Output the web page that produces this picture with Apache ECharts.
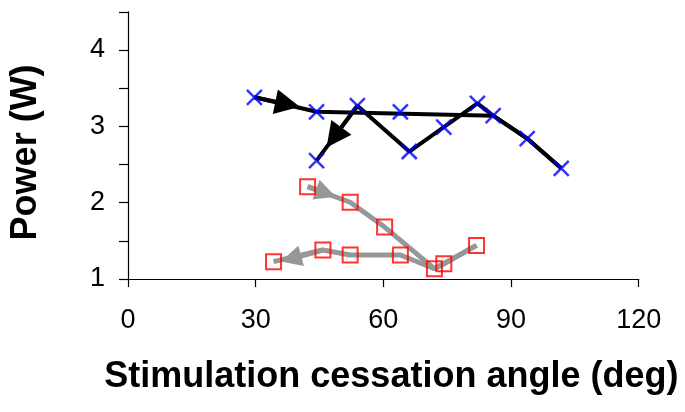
<!DOCTYPE html>
<html>
<head>
<meta charset="utf-8">
<script src="https://cdn.jsdelivr.net/npm/echarts@6/dist/echarts.min.js"></script>
<style>html,body{margin:0;padding:0;background:#fff;}#c{width:685px;height:412px;}</style>
</head>
<body>
<div id="c"></div>
<script>
// Blue crosses (black connecting lines)
const blueAngle = [29.7, 44.3, 53.9, 64.0, 66.1, 74.2, 82.1, 85.8, 93.8, 101.8, 44.3];
const bluePower = [3.38, 3.19, 3.27, 3.19, 2.67, 2.99, 3.30, 3.14, 2.84, 2.45, 2.55];
const blackRun1 = [0, 1, 7, 8, 9];
const blackRun2 = [9, 8, 7, 6, 5, 4, 2, 10];
// arrowheads on black path: [start index, arrow centre angle, arrow centre power]
const blackArrowFrom = [0, 2];
const blackArrowAngle = [37.5, 48.4];
const blackArrowPower = [3.29, 2.855];

// Red squares (grey connecting lines)
const redAngle = [42.2, 52.2, 60.3, 81.9, 74.2, 72.0, 64.0, 52.2, 45.8, 34.2];
const redPower = [2.21, 2.005, 1.68, 1.44, 1.20, 1.135, 1.315, 1.315, 1.38, 1.227];
const greyRun1 = [0, 1, 2, 5, 4, 3];
const greyRun2 = [3, 4, 5, 6, 7, 8, 9];
const greyArrowFrom = [0, 8];
const greyArrowAngle = [46.5, 38.3];
const greyArrowPower = [2.124, 1.265];

const xTicks = [0, 30, 60, 90, 120];
const yTicks = [1, 2, 3, 4];

function run(xs, ys, idx) { return idx.map(i => [xs[i], ys[i]]); }
function arrows(xs, ys, from, ax, ay) {
  return from.map((f, k) => ({ coords: [[xs[f], ys[f]], [ax[k], ay[k]]] }));
}

const chart = echarts.init(document.getElementById('c'), null, { renderer: 'canvas' });
const font = '"Liberation Sans", Arial, sans-serif';
chart.setOption({
  animation: false,
  grid: { left: 125.7, right: 46.3, top: 11.8, bottom: 133, containLabel: false },
  xAxis: {
    type: 'value', min: xTicks[0], max: xTicks[xTicks.length - 1], interval: 30,
    axisLine: { lineStyle: { color: '#000', width: 1.2 } },
    axisTick: { length: 8, lineStyle: { color: '#000', width: 1.2 } },
    axisLabel: { margin: 28, fontSize: 27, color: '#000', fontFamily: font },
    splitLine: { show: false },
    name: 'Stimulation cessation angle (deg)', nameLocation: 'middle', nameGap: 80,
    nameTextStyle: { fontSize: 36, fontWeight: 'bold', color: '#000', fontFamily: font, padding: [0, 0, 0, 16] }
  },
  yAxis: {
    type: 'value', min: yTicks[0], max: 4.5, interval: 0.5,
    axisLine: { show: true, lineStyle: { color: '#000', width: 1.2 } },
    axisTick: { show: true, length: 9, lineStyle: { color: '#000', width: 1.2 } },
    axisLabel: { margin: 23, fontSize: 27, color: '#000', fontFamily: font,
      formatter: v => (yTicks.indexOf(v) >= 0 ? String(v) : '') },
    splitLine: { show: false },
    name: 'Power (W)', nameLocation: 'middle', nameGap: 84, nameRotate: 90,
    nameTextStyle: { fontSize: 36, fontWeight: 'bold', color: '#000', fontFamily: font, padding: [0, 14, 0, 0] }
  },
  series: [
    { type: 'line', data: run(redAngle, redPower, greyRun1), symbol: 'none', z: 2,
      lineStyle: { color: '#979797', width: 5 } },
    { type: 'line', data: run(redAngle, redPower, greyRun2), symbol: 'none', z: 2,
      lineStyle: { color: '#979797', width: 5 } },
    { type: 'lines', coordinateSystem: 'cartesian2d', z: 3,
      data: arrows(redAngle, redPower, greyArrowFrom, greyArrowAngle, greyArrowPower),
      symbol: ['none', 'triangle'], symbolSize: [22, 21],
      lineStyle: { color: '#979797', width: 5, opacity: 1 }, itemStyle: { color: '#979797' } },
    { type: 'line', data: run(blueAngle, bluePower, blackRun1), symbol: 'none', z: 2,
      lineStyle: { color: '#000', width: 4 } },
    { type: 'line', data: run(blueAngle, bluePower, blackRun2), symbol: 'none', z: 2,
      lineStyle: { color: '#000', width: 4 } },
    { type: 'lines', coordinateSystem: 'cartesian2d', z: 3,
      data: arrows(blueAngle, bluePower, blackArrowFrom, blackArrowAngle, blackArrowPower),
      symbol: ['none', 'triangle'], symbolSize: [28, 25],
      lineStyle: { color: '#000', width: 4, opacity: 1 }, itemStyle: { color: '#000' } },
    { type: 'scatter', z: 5, data: blueAngle.map((a, i) => [a, bluePower[i]]),
      symbol: 'path://M0,0L10,10M10,0L0,10', symbolSize: 15,
      itemStyle: { color: 'transparent', borderColor: '#0000ff', borderWidth: 2.5 } },
    { type: 'scatter', z: 5, data: redAngle.map((a, i) => [a, redPower[i]]),
      symbol: 'rect', symbolSize: 15,
      itemStyle: { color: 'transparent', borderColor: '#ff0000', borderWidth: 2 } }
  ]
});
</script>
</body>
</html>
